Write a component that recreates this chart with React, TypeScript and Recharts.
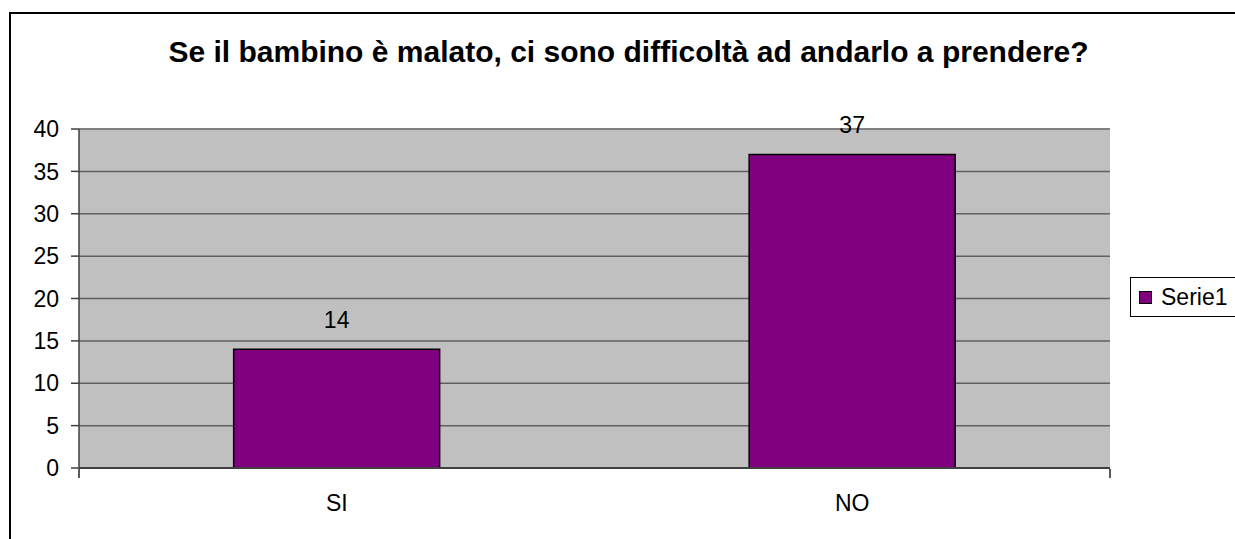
import React from 'react';
import { BarChart, Bar, XAxis, YAxis, CartesianGrid, Legend, LabelList, ReferenceLine } from 'recharts';

const categories = ['SI', 'NO'];
const serie1 = [14, 37];
const yTicks = [0, 5, 10, 15, 20, 25, 30, 35, 40];
const edgeTicks = [0, 1, 2];

const title = 'Se il bambino è malato, ci sono difficoltà ad andarlo a prendere?';
const seriesName = 'Serie1';

const data = categories.map((name, i) => ({ name, value: serie1[i] }));

const FONT = '"Liberation Sans", Arial, sans-serif';

// legenda con il riquadro nero come nell'originale
const LegendBox = () => (
  <div
    style={{
      border: '1px solid #000',
      height: 38,
      width: 130,
      display: 'flex',
      alignItems: 'center',
      fontFamily: FONT,
      fontSize: 23,
      color: '#000',
      background: '#fff',
    }}
  >
    <span
      style={{
        display: 'inline-block',
        width: 11,
        height: 11,
        background: '#800080',
        border: '1.5px solid #000',
        marginLeft: 8,
        marginRight: 9,
      }}
    />
    <span>{seriesName}</span>
  </div>
);

// solo le tacche ai bordi delle categorie, senza testo
const EmptyTick = () => <g />;

export default function App() {
  return (
    <div
      style={{
        position: 'absolute',
        left: 0,
        top: 0,
        width: 1235,
        height: 539,
        overflow: 'hidden',
        background: '#fff',
        fontFamily: FONT,
      }}
    >
      {/* cornice esterna */}
      <div
        style={{
          position: 'absolute',
          left: 9,
          top: 12,
          width: 1240,
          height: 560,
          border: '2px solid #000',
        }}
      />
      <div
        style={{
          position: 'absolute',
          left: 10,
          top: 37,
          width: 1237,
          textAlign: 'center',
          fontSize: 30,
          lineHeight: '30px',
          fontWeight: 'bold',
          color: '#000',
        }}
      >
        {title}
      </div>
      <div style={{ position: 'absolute', left: 0, top: 0 }}>
        <BarChart
          width={1235}
          height={539}
          data={data}
          margin={{ top: 129, right: 125, bottom: 69, left: 0 }}
          barCategoryGap="30%"
        >
          <CartesianGrid vertical={false} fill="#c0c0c0" stroke="#606060" strokeWidth={1.5} />
          <XAxis
            dataKey="name"
            height={1}
            tickLine={false}
            tickSize={8}
            tickMargin={19}
            axisLine={{ stroke: '#404040', strokeWidth: 2 }}
            tick={{ fill: '#000', fontSize: 23, fontFamily: FONT }}
            interval={0}
          />
          <XAxis
            xAxisId="edges"
            type="number"
            domain={[0, 2]}
            ticks={edgeTicks}
            interval={0}
            height={1}
            axisLine={false}
            tick={EmptyTick}
            tickSize={9}
            tickLine={{ stroke: '#222', strokeWidth: 1.5 }}
          />
          <YAxis
            width={79}
            domain={[0, 40]}
            ticks={yTicks}
            interval={0}
            tickSize={8}
            tickMargin={12}
            axisLine={{ stroke: '#404040', strokeWidth: 1.5 }}
            tickLine={{ stroke: '#404040', strokeWidth: 1.5 }}
            tick={{ fill: '#000', fontSize: 23, fontFamily: FONT }}
          />
          <ReferenceLine y={40} stroke="#808080" strokeWidth={2} />
          <ReferenceLine xAxisId="edges" x={2} stroke="#808080" strokeWidth={2} />
          <Legend
            layout="horizontal"
            align="center"
            verticalAlign="middle"
            content={() => <LegendBox />}
            wrapperStyle={{ left: 1130, top: 277, width: 130, height: 40 }}
          />
          <Bar dataKey="value" name={seriesName} fill="#800080" stroke="#000" strokeWidth={1.5} isAnimationActive={false}>
            <LabelList dataKey="value" position="top" offset={21} fill="#000" fontSize={23} fontFamily={FONT} />
          </Bar>
        </BarChart>
      </div>
    </div>
  );
}
